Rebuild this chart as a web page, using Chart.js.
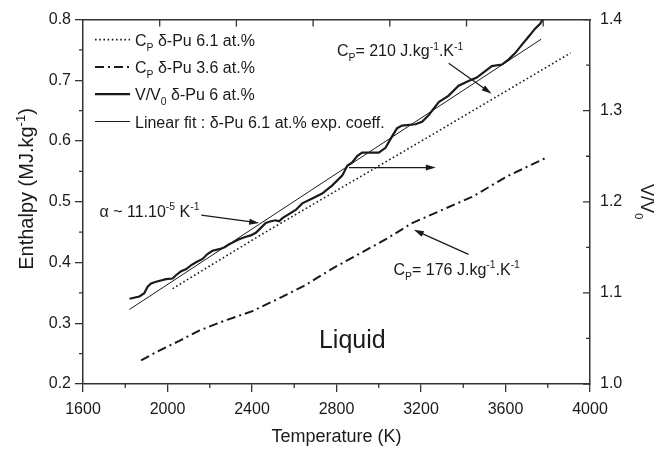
<!DOCTYPE html>
<html>
<head>
<meta charset="utf-8">
<script src="https://cdn.jsdelivr.net/npm/chart.js@4.4.1/dist/chart.umd.min.js"></script>
<style>
  html, body { margin: 0; padding: 0; background: #fff; }
  canvas { display: block; }
</style>
</head>
<body>
<canvas id="enthalpyChart" width="668" height="452"></canvas>
<script>
// Cp, delta-Pu 6.1 at.% (enthalpy, MJ/kg)
const cp61Temp = [2024, 2449, 3236, 3908];
const cp61Enthalpy = [0.357, 0.447, 0.607, 0.745];

// Cp, delta-Pu 3.6 at.% (enthalpy, MJ/kg)
const cp36Temp = [1875, 1961, 2056, 2150, 2276, 2402, 2528, 2654, 2780, 2906, 3032, 3158, 3441, 3614, 3795];
const cp36Enthalpy = [0.239, 0.255, 0.271, 0.288, 0.305, 0.320, 0.341, 0.363, 0.390, 0.414, 0.438, 0.465, 0.508, 0.543, 0.573];

// V/V0, delta-Pu 6 at.%
const volTemp = [1820, 1867, 1890, 1906, 1922, 1946, 1993, 2024, 2040, 2064, 2087, 2111, 2135, 2166, 2189,
  2213, 2245, 2268, 2292, 2315, 2339, 2371, 2394, 2418, 2442, 2465, 2489, 2512, 2528, 2544, 2607, 2638,
  2685, 2732, 2780, 2827, 2851, 2874, 2898, 2921, 3000, 3032, 3063, 3087, 3110, 3174, 3205, 3236, 3284,
  3331, 3378, 3425, 3464, 3504, 3535, 3583, 3614, 3646, 3677, 3709, 3740, 3764, 3775];
const volRatio = [1.0936, 1.0961, 1.0996, 1.1068, 1.1104, 1.1122, 1.1151, 1.1158, 1.1194, 1.1237, 1.1259,
  1.1302, 1.1337, 1.1373, 1.1427, 1.1463, 1.1480, 1.1498, 1.1534, 1.1560, 1.1588, 1.1617, 1.1631, 1.1660,
  1.1714, 1.1768, 1.1786, 1.1797, 1.1786, 1.1821, 1.1911, 1.1983, 1.2037, 1.2091, 1.2180, 1.2287, 1.2395,
  1.2431, 1.2502, 1.2539, 1.2539, 1.2593, 1.2718, 1.2808, 1.2836, 1.2851, 1.2879, 1.2951, 1.3094, 1.3166,
  1.3274, 1.3327, 1.3363, 1.3435, 1.3489, 1.3507, 1.3561, 1.3632, 1.3722, 1.3811, 1.3901, 1.3955, 1.3998];

// linear fit with the 6.1 at.% expansion coefficient
const fitTemp = [1820, 3769];
const fitRatio = [1.0818, 1.3785];

const xTicks = [1600, 2000, 2400, 2800, 3200, 3600, 4000];
const topTicks = [1, 2, 3, 4, 5, 6];
const enthalpyTicks = [0.2, 0.3, 0.4, 0.5, 0.6, 0.7, 0.8];
const volTicks = [1.0, 1.1, 1.2, 1.3, 1.4];

const FONT = '"Liberation Sans", Arial, Helvetica, sans-serif';
const INK = '#1a1a1a';
const AXIS = '#333';

const toPoints = (xs, ys) => xs.map((x, i) => ({ x: x, y: ys[i] }));

// text with sub/superscripts: parts = [[text, ''|'sub'|'sup'], ...]
function richWidth(ctx, parts, size) {
  let w = 0;
  for (const [t, mode] of parts) {
    ctx.font = (mode ? size * 0.65 : size) + 'px ' + FONT;
    w += ctx.measureText(t).width;
  }
  return w;
}
function drawRich(ctx, parts, x, y, size) {
  let cx = x;
  ctx.textBaseline = 'alphabetic';
  ctx.textAlign = 'left';
  for (const [t, mode] of parts) {
    ctx.font = (mode ? size * 0.65 : size) + 'px ' + FONT;
    const dy = mode === 'sub' ? size * 0.32 : mode === 'sup' ? -size * 0.42 : 0;
    ctx.fillText(t, cx, y + dy);
    cx += ctx.measureText(t).width;
  }
}
function arrow(ctx, x1, y1, x2, y2) {
  const a = Math.atan2(y2 - y1, x2 - x1);
  const len = 10, half = 3;
  ctx.beginPath();
  ctx.moveTo(x1, y1);
  ctx.lineTo(x2 - Math.cos(a) * len * 0.8, y2 - Math.sin(a) * len * 0.8);
  ctx.stroke();
  ctx.beginPath();
  ctx.moveTo(x2, y2);
  ctx.lineTo(x2 - Math.cos(a) * len - Math.sin(a) * half, y2 - Math.sin(a) * len + Math.cos(a) * half);
  ctx.lineTo(x2 - Math.cos(a) * len + Math.sin(a) * half, y2 - Math.sin(a) * len - Math.cos(a) * half);
  ctx.closePath();
  ctx.fill();
}

const series = [
  { label: 'cp61', data: toPoints(cp61Temp, cp61Enthalpy), yAxisID: 'y', borderWidth: 1.6, borderDash: [1.6, 2.6] },
  { label: 'cp36', data: toPoints(cp36Temp, cp36Enthalpy), yAxisID: 'y', borderWidth: 2, borderDash: [9, 4, 2, 4] },
  { label: 'vol', data: toPoints(volTemp, volRatio), yAxisID: 'y2', borderWidth: 2.2, borderDash: [] },
  { label: 'fit', data: toPoints(fitTemp, fitRatio), yAxisID: 'y2', borderWidth: 1, borderDash: [] }
];

const legendRows = [
  { ds: 0, parts: [['C', ''], ['P', 'sub'], [' \u03b4-Pu 6.1 at.%', '']] },
  { ds: 1, parts: [['C', ''], ['P', 'sub'], [' \u03b4-Pu 3.6 at.%', '']] },
  { ds: 2, parts: [['V/V', ''], ['0', 'sub'], [' \u03b4-Pu 6 at.%', '']] },
  { ds: 3, parts: [['Linear fit : \u03b4-Pu 6.1 at.% exp. coeff.', '']] }
];

// notes placed in temperature / enthalpy units
const notes = [
  { x: 1678, y: 0.4748, size: 16, parts: [['\u03b1 ~ 11.10', ''], ['-5', 'sup'], [' K', ''], ['-1', 'sup']] },
  { x: 2802, y: 0.7395, size: 16, parts: [['C', ''], ['P', 'sub'], ['= 210 J.kg', ''], ['-1', 'sup'], ['.K', ''], ['-1', 'sup']] },
  { x: 3070, y: 0.3796, size: 16, parts: [['C', ''], ['P', 'sub'], ['= 176 J.kg', ''], ['-1', 'sup'], ['.K', ''], ['-1', 'sup']] },
  { x: 2717, y: 0.2586, size: 25, parts: [['Liquid', '']] }
];
const arrows = [
  [2160, 0.478, 2434, 0.4651],
  [3331, 0.728, 3534, 0.678],
  [2859, 0.5563, 3270, 0.5563],
  [3425, 0.4135, 3166, 0.4538]
];

const decorations = {
  id: 'decorations',
  afterDraw(chart) {
    const ctx = chart.ctx;
    const { x, y, y2, xTop } = chart.scales;
    const area = chart.chartArea;
    ctx.save();
    ctx.strokeStyle = AXIS;
    ctx.fillStyle = INK;
    ctx.lineWidth = 1.3;

    // minor ticks, outward on left/bottom
    ctx.beginPath();
    for (let v = 0.25; v < 0.8; v += 0.1) {
      const py = y.getPixelForValue(v);
      ctx.moveTo(area.left, py); ctx.lineTo(area.left - 4, py);
    }
    for (let t = 1800; t < 4000; t += 400) {
      const px = x.getPixelForValue(t);
      ctx.moveTo(px, area.bottom); ctx.lineTo(px, area.bottom + 4);
    }
    // right axis: inward ticks
    volTicks.forEach(v => {
      const py = y2.getPixelForValue(v);
      ctx.moveTo(area.right, py); ctx.lineTo(area.right - 7, py);
    });
    for (let v = 1.05; v < 1.4; v += 0.1) {
      const py = y2.getPixelForValue(v);
      ctx.moveTo(area.right, py); ctx.lineTo(area.right - 4, py);
    }
    // top axis: inward ticks
    topTicks.forEach(v => {
      const px = xTop.getPixelForValue(v);
      ctx.moveTo(px, area.top); ctx.lineTo(px, area.top + 7);
    });
    ctx.stroke();

    // legend
    legendRows.forEach((row, i) => {
      const ds = chart.data.datasets[row.ds];
      const base = area.top + 26 + i * 27.3;
      ctx.save();
      ctx.strokeStyle = INK;
      ctx.lineWidth = ds.borderWidth;
      ctx.setLineDash(ds.borderDash);
      ctx.beginPath();
      ctx.moveTo(area.left + 12, base - 6);
      ctx.lineTo(area.left + 47, base - 6);
      ctx.stroke();
      ctx.restore();
      drawRich(ctx, row.parts, area.left + 52, base, 16);
    });

    // notes and arrows
    notes.forEach(n => drawRich(ctx, n.parts, x.getPixelForValue(n.x), y.getPixelForValue(n.y), n.size));
    ctx.strokeStyle = INK;
    ctx.lineWidth = 1.2;
    arrows.forEach(a => arrow(ctx, x.getPixelForValue(a[0]), y.getPixelForValue(a[1]),
      x.getPixelForValue(a[2]), y.getPixelForValue(a[3])));

    // axis titles
    const xt = [['Temperature (K)', '']];
    ctx.fillStyle = INK;
    const xw = richWidth(ctx, xt, 18);
    drawRich(ctx, xt, (area.left + area.right) / 2 - xw / 2, 442, 18);

    const yt = [['Enthalpy (MJ.kg', ''], ['-1', 'sup'], [')', '']];
    const yw = richWidth(ctx, yt, 20);
    ctx.save();
    ctx.translate(33, 189);
    ctx.rotate(-Math.PI / 2);
    drawRich(ctx, yt, -yw / 2, 0, 20);
    ctx.restore();

    const rt = [['V/V', ''], ['0', 'sub']];
    const rw = richWidth(ctx, rt, 18);
    ctx.save();
    ctx.translate(641, (area.top + area.bottom) / 2);
    ctx.rotate(Math.PI / 2);
    drawRich(ctx, rt, -rw / 2, 0, 18);
    ctx.restore();

    ctx.restore();
  }
};

const tickFont = { family: FONT, size: 16 };

new Chart(document.getElementById('enthalpyChart'), {
  type: 'line',
  data: {
    datasets: series.map(s => ({
      label: s.label,
      data: s.data,
      yAxisID: s.yAxisID,
      borderColor: INK,
      borderWidth: s.borderWidth,
      borderDash: s.borderDash,
      pointRadius: 0,
      tension: 0,
      fill: false
    }))
  },
  options: {
    responsive: false,
    devicePixelRatio: 1,
    animation: false,
    layout: { padding: 0 },
    plugins: { legend: { display: false }, tooltip: { enabled: false } },
    scales: {
      x: {
        type: 'linear', position: 'bottom', min: 1600, max: 4000,
        afterBuildTicks: s => { s.ticks = xTicks.map(v => ({ value: v })); },
        ticks: { font: tickFont, color: INK, padding: 8, maxRotation: 0, callback: v => String(v) },
        grid: { display: true, drawOnChartArea: false, drawTicks: true, tickLength: 8, color: AXIS, lineWidth: 1.3 },
        border: { display: true, color: AXIS, width: 1.5 },
        afterFit: s => { s.height = 68; }
      },
      xTop: {
        type: 'linear', position: 'top', min: 0, max: 6.61,
        ticks: { display: false },
        grid: { display: false },
        border: { display: true, color: AXIS, width: 1.5 },
        afterFit: s => { s.height = 12; }
      },
      y: {
        type: 'linear', position: 'left', min: 0.2, max: 0.8,
        afterBuildTicks: s => { s.ticks = enthalpyTicks.map(v => ({ value: v })); },
        ticks: { font: tickFont, color: INK, padding: 4, callback: v => v.toFixed(1) },
        grid: { display: true, drawOnChartArea: false, drawTicks: true, tickLength: 8, color: AXIS, lineWidth: 1.3 },
        border: { display: true, color: AXIS, width: 1.5 },
        afterFit: s => { s.width = 83; }
      },
      y2: {
        type: 'linear', position: 'right', min: 1.0, max: 1.4,
        afterBuildTicks: s => { s.ticks = volTicks.map(v => ({ value: v })); },
        ticks: { font: tickFont, color: INK, padding: 10, callback: v => v.toFixed(1) },
        grid: { display: true, drawOnChartArea: false, drawTicks: false },
        border: { display: true, color: AXIS, width: 1.5 },
        afterFit: s => { s.width = 78; }
      }
    }
  },
  plugins: [decorations]
});
</script>
</body>
</html>
